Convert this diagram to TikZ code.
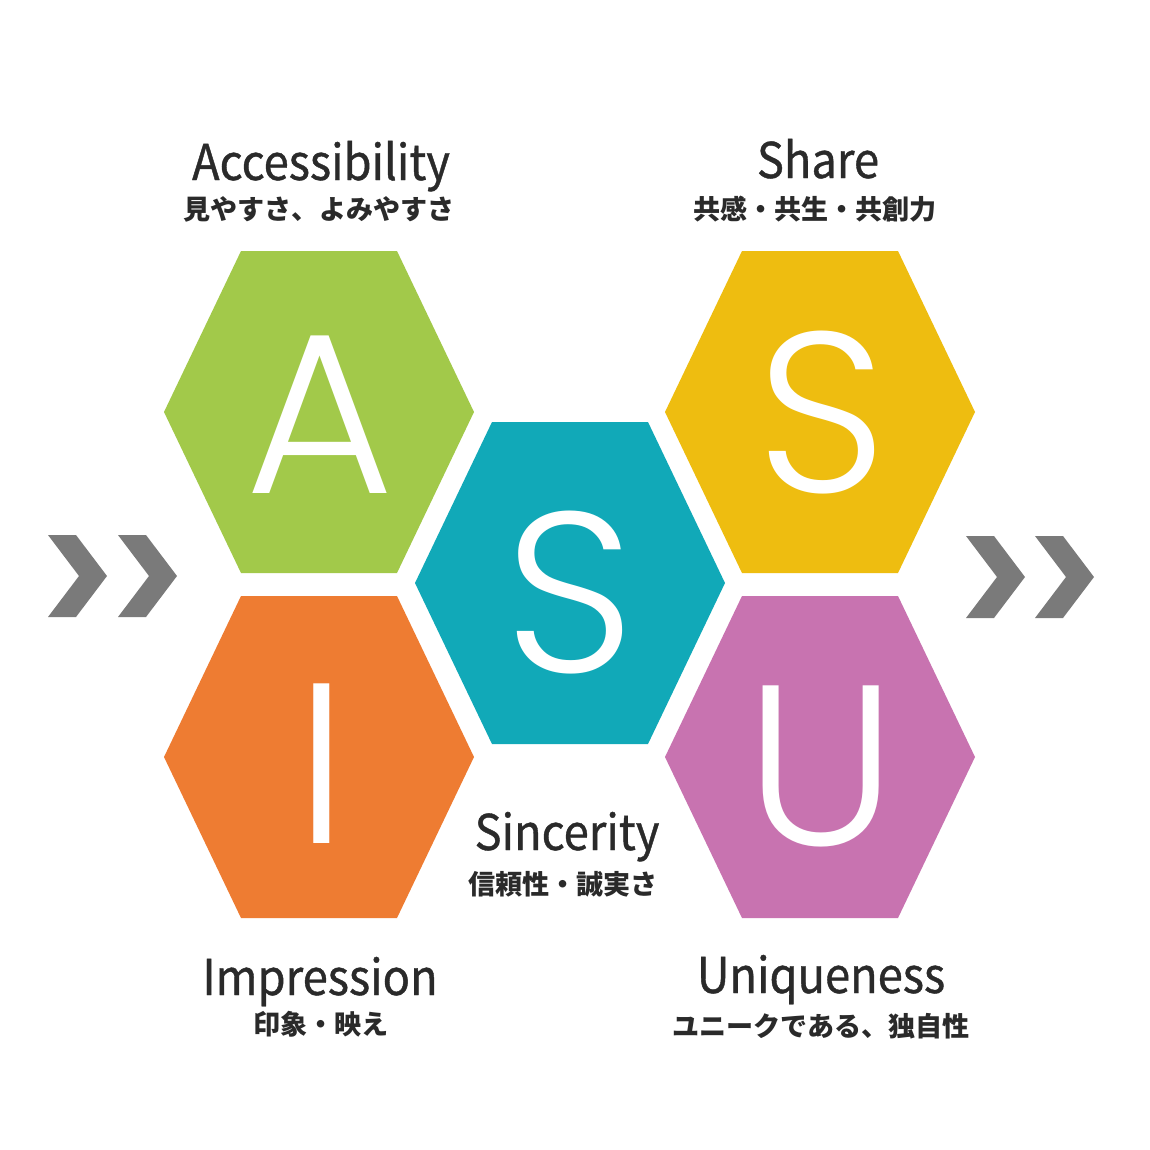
\documentclass[tikz,border=0pt]{standalone}
\usepackage{fontspec}
\setmainfont{Noto Sans CJK JP}
\newfontfamily\titlefont{Noto Sans CJK JP}[FakeStretch = 0.92, FakeBold = 0.8]
\newfontfamily\letterfont{Poppins}[UprightFont = * Light]
\usetikzlibrary{positioning}

\definecolor{accgreen}{HTML}{A2C94A}
\definecolor{shareyellow}{HTML}{EEBD10}
\definecolor{sincteal}{HTML}{11A9B8}
\definecolor{imporange}{HTML}{EE7C32}
\definecolor{uniqpurple}{HTML}{C873B0}
\definecolor{chevgray}{HTML}{7A7A7A}
\definecolor{labelgray}{HTML}{2A2A2A}

\tikzset{
	letter/.style = {anchor = base, text = white, inner sep = 0pt, font = \letterfont\fontsize{65}{65}\selectfont},
	title/.style = {anchor = base, text = labelgray, inner sep = 0pt, font = \titlefont\fontsize{14}{14}\selectfont},
	subtitle/.style = {anchor = base, text = labelgray, inner sep = 0pt, font = \bfseries\fontsize{7.7}{7.7}\selectfont}
}

\begin{document}
\begin{tikzpicture}[x = 0.1mm, y = -0.1mm]
	\fill [white] (0, 0) rectangle (1150, 1150);
	\useasboundingbox (0, 0) rectangle (1150, 1150);
	% hexagons
	\fill [accgreen, shift = {(319, 412)}] (-155, 0) -- (-78, -161) -- (78, -161) -- (155, 0) -- (78, 161) -- (-78, 161) -- cycle;
	\fill [shareyellow, shift = {(820, 412)}] (-155, 0) -- (-78, -161) -- (78, -161) -- (155, 0) -- (78, 161) -- (-78, 161) -- cycle;
	\fill [sincteal, shift = {(570, 583)}] (-155, 0) -- (-78, -161) -- (78, -161) -- (155, 0) -- (78, 161) -- (-78, 161) -- cycle;
	\fill [imporange, shift = {(319, 757)}] (-155, 0) -- (-78, -161) -- (78, -161) -- (155, 0) -- (78, 161) -- (-78, 161) -- cycle;
	\fill [uniqpurple, shift = {(820, 757)}] (-155, 0) -- (-78, -161) -- (78, -161) -- (155, 0) -- (78, 161) -- (-78, 161) -- cycle;
	% letters
	\node [letter] (a) at (320, 493) {A};
	\node [letter] (s1) at (822, 492) {S};
	\node [letter] (s2) at (570, 672) {S};
	\node [letter] (i) at (322, 843) {I};
	\node [letter] (u) at (821, 845) {U};
	% chevrons
	\fill [chevgray] (48, 535) -- (76, 535) -- (107, 576) -- (76, 617) -- (48, 617) -- (79, 576) -- cycle;
	\fill [chevgray] (118, 535) -- (146, 535) -- (177, 576) -- (146, 617) -- (118, 617) -- (149, 576) -- cycle;
	\fill [chevgray] (966, 536) -- (994, 536) -- (1025, 577) -- (994, 618) -- (966, 618) -- (997, 577) -- cycle;
	\fill [chevgray] (1035, 536) -- (1063, 536) -- (1094, 577) -- (1063, 618) -- (1035, 618) -- (1066, 577) -- cycle;
	% labels
	\node [title] (access) at (321, 180) {Accessibility};
	\node [subtitle] (accessjp) at (319, 219) {見やすさ、よみやすさ};
	\node [title] (share) at (818, 178) {Share};
	\node [subtitle] (sharejp) at (815, 219) {共感・共生・共創力};
	\node [title] (sincere) at (567, 850) {Sincerity};
	\node [subtitle] (sincerejp) at (563, 894) {信頼性・誠実さ};
	\node [title] (impress) at (320, 995) {Impression};
	\node [subtitle] (impressjp) at (321, 1034) {印象・映え};
	\node [title] (unique) at (821, 993) {Uniqueness};
	\node [subtitle] (uniquejp) at (821, 1036) {ユニークである、独自性};
\end{tikzpicture}
\end{document}
